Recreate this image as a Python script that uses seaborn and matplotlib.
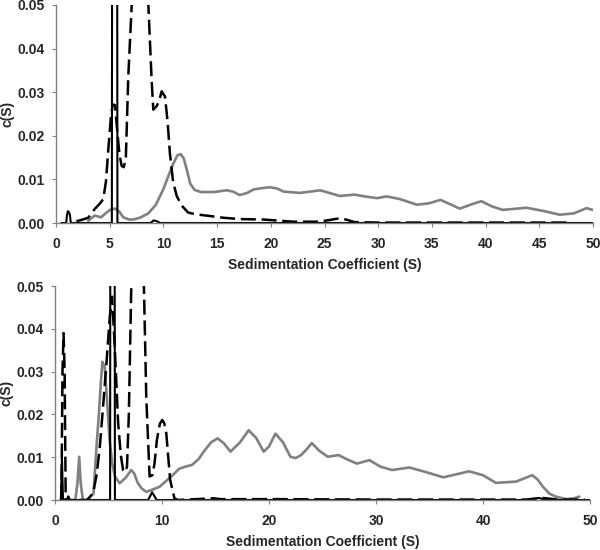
import numpy as np
import pandas as pd
import seaborn as sns
import matplotlib.pyplot as plt
from matplotlib.ticker import FormatStrFormatter

# ---- top panel data (S, c(S)) ----
top_solid_x = [0.5, 0.95, 1.02, 1.1, 1.2, 1.3, 1.38, 5.2, 5.28, 5.65, 5.72, 8.8, 9.1, 9.4, 9.7, 50.0]
top_solid_y = [0.0, 0.0, 0.0018, 0.0027, 0.0025, 0.0018, 0.0, 0.0, 0.2, 0.2, 0.0, 0.0, 0.0006,
               0.0004, 0.0, 0.0]

top_dash_x = [1.9, 2.5, 3.0, 3.6, 4.1, 4.4, 4.65, 4.87, 5.1, 5.28, 5.5, 5.65, 5.9, 6.11, 6.3,
              6.5, 6.73, 7.05, 7.8, 8.6, 8.9, 9.06, 9.37, 9.6, 9.84, 10.15, 10.4, 10.6, 10.9,
              11.24, 11.7, 12.3, 13.0, 14.0, 15.6, 17.1, 19.3, 22.1, 24.5, 25.5, 26.2, 27.0,
              27.8, 30.0, 40.0, 48.0]
top_dash_y = [0.0004, 0.0008, 0.0012, 0.0032, 0.0045, 0.0055, 0.0095, 0.0169, 0.024, 0.0272,
              0.027, 0.0225, 0.016, 0.0131, 0.0128, 0.0146, 0.0336, 0.05, 0.085, 0.05, 0.033,
              0.026, 0.0268, 0.028, 0.0302, 0.029, 0.023, 0.0161, 0.0095, 0.0062, 0.004,
              0.0024, 0.002, 0.0017, 0.0012, 0.0009, 0.0008, 0.0003, 0.0003, 0.0007, 0.001,
              0.0008, 0.0002, 0.0001, 0.0001, 0.0001]

top_gray_x = [3.0, 3.6, 4.2, 4.7, 5.1, 5.5, 5.9, 6.27, 6.8, 7.2, 7.8, 8.6, 9.3, 10.0, 10.5,
              10.9, 11.3, 11.6, 11.9, 12.2, 12.5, 12.9, 13.5, 14.7, 15.3, 15.9, 16.5, 17.1,
              17.8, 18.4, 19.2, 19.9, 20.6, 21.2, 22.7, 24.6, 25.6, 26.4, 27.8, 29.0, 29.9,
              30.8, 32.0, 33.6, 34.7, 35.8, 36.7, 37.6, 38.6, 39.6, 40.6, 41.6, 43.8, 45.5,
              46.9, 48.2, 49.4, 50.0]
top_gray_y = [0.0005, 0.0017, 0.0013, 0.0024, 0.0031, 0.0033, 0.0026, 0.0013, 0.0008, 0.0008,
              0.0012, 0.0022, 0.0042, 0.0078, 0.011, 0.0135, 0.0155, 0.0158, 0.0148, 0.012,
              0.009, 0.0076, 0.0071, 0.0071, 0.0073, 0.0075, 0.0072, 0.0064, 0.0069, 0.0077,
              0.008, 0.0082, 0.0079, 0.0072, 0.0069, 0.0075, 0.0068, 0.0062, 0.0065, 0.006,
              0.0057, 0.0061, 0.0055, 0.0042, 0.0045, 0.0053, 0.0043, 0.0033, 0.0042, 0.005,
              0.0038, 0.003, 0.0035, 0.0027, 0.0019, 0.0022, 0.0034, 0.003]

# ---- bottom panel data ----
bot_solid_x = [0.5, 0.55, 0.65, 0.75, 0.8, 5.15, 5.21, 5.52, 5.6, 8.7, 9.08, 9.5, 44.5, 45.2,
               45.9, 50.0]
bot_solid_y = [0.0, 0.0, 0.0097, 0.0, 0.0, 0.0, 0.2, 0.2, 0.0, 0.0, 0.0018, 0.0, 0.0, 0.0005,
               0.0, 0.0]

bot_dash_x = [0.6, 0.7, 0.8, 0.9, 1.0, 1.15, 1.24, 1.35, 3.0, 3.56, 3.9, 4.19, 4.5, 4.81, 5.12,
              5.33, 5.58, 5.9, 6.15, 6.36, 6.55, 6.73, 6.9, 7.13, 7.7, 8.31, 8.53, 8.84, 9.1,
              9.3, 9.52, 9.8, 10.02, 10.2, 10.4, 10.76, 11.16, 11.5, 14.8, 15.5, 21.0, 30.0,
              44.0, 45.5, 47.0, 49.5]
bot_dash_y = [0.0, 0.03, 0.039, 0.03, 0.0, 0.0, 0.0008, 0.0, 0.0, 0.0016, 0.006, 0.0125, 0.022,
              0.032, 0.0428, 0.0475, 0.036, 0.018, 0.0105, 0.007, 0.0065, 0.0078, 0.02, 0.05,
              0.09, 0.05, 0.024, 0.0055, 0.0058, 0.0085, 0.014, 0.0178, 0.0187, 0.018, 0.0156,
              0.0047, 0.0004, 0.0, 0.0004, 0.0002, 0.0002, 0.0001, 0.0001, 0.0005, 0.0001,
              0.0001]

bot_gray_x = [1.9, 2.1, 2.26, 2.4, 2.6, 3.0, 3.6, 3.88, 4.1, 4.3, 4.43, 4.65, 4.9, 5.1, 5.35,
              5.6, 6.05, 6.6, 7.13, 7.4, 7.75, 8.1, 8.53, 9.2, 9.77, 10.5, 11.0, 11.6, 12.2,
              12.8, 13.4, 13.9, 14.6, 15.2, 15.8, 16.4, 17.3, 18.1, 18.8, 19.5, 20.0, 20.6,
              21.3, 22.0, 22.5, 23.0, 23.5, 24.0, 24.7, 25.5, 26.5, 27.3, 28.2, 29.4, 30.4,
              31.5, 33.1, 34.7, 36.3, 38.7, 40.0, 41.2, 43.1, 44.0, 44.6, 45.1, 45.6, 46.2,
              46.8, 47.8, 48.5, 49.0]
bot_gray_y = [0.0, 0.004, 0.0101, 0.004, 0.0, 0.0, 0.0015, 0.0125, 0.02, 0.028, 0.0323, 0.031,
              0.022, 0.014, 0.0085, 0.0055, 0.0039, 0.0052, 0.007, 0.0062, 0.0039, 0.0027,
              0.0019, 0.0025, 0.0031, 0.0047, 0.0058, 0.0073, 0.0078, 0.0082, 0.0095, 0.0113,
              0.0135, 0.0144, 0.0132, 0.0113, 0.0135, 0.0163, 0.0145, 0.0113, 0.0125, 0.0155,
              0.0135, 0.0101, 0.0098, 0.0105, 0.0118, 0.0133, 0.0115, 0.0101, 0.0105, 0.0095,
              0.0085, 0.0093, 0.0078, 0.007, 0.0076, 0.0065, 0.0053, 0.0067, 0.0058, 0.004,
              0.0043, 0.0052, 0.0058, 0.0048, 0.0031, 0.0015, 0.0008, 0.0002, 0.0004, 0.0008]

y_ticks = [0.0, 0.01, 0.02, 0.03, 0.04, 0.05]
top_xticks = list(range(0, 51, 5))
bot_xticks = list(range(0, 51, 10))

sns.set_style("white")
plt.rcParams['font.family'] = ['Liberation Sans', 'DejaVu Sans']
plt.rcParams['font.weight'] = 'bold'
plt.rcParams['axes.labelweight'] = 'bold'

GRAY = '#808080'
DASH = (0, (6, 2.3))

fig = plt.figure(figsize=(6, 5.5), dpi=100)
ax1 = fig.add_axes([56 / 600, 1 - 223 / 550, (593 - 56) / 600, (223 - 5) / 550])
ax2 = fig.add_axes([55 / 600, 1 - 500 / 550, (590 - 55) / 600, (500 - 286) / 550])


def draw_panel(ax, solid, dash, gray, xticks):
    sns.lineplot(x=gray[0], y=gray[1], ax=ax, color=GRAY, lw=1.9, estimator=None)
    sns.lineplot(x=dash[0], y=dash[1], ax=ax, color='black', lw=1.8, linestyle=DASH,
                 estimator=None)
    sns.lineplot(x=solid[0], y=solid[1], ax=ax, color='black', lw=1.5, estimator=None)
    ax.set_xlim(0, 50)
    ax.set_ylim(0, 0.05)
    ax.set_xticks(xticks)
    ax.set_yticks(y_ticks)
    ax.yaxis.set_major_formatter(FormatStrFormatter('%.2f'))
    for side in ['top', 'right']:
        ax.spines[side].set_visible(False)
    for side in ['left', 'bottom']:
        ax.spines[side].set_color(GRAY)
        ax.spines[side].set_linewidth(1.0)
    ax.tick_params(direction='out', length=3, width=0.8, color=GRAY, labelsize=10,
                   bottom=True, left=True)
    ax.tick_params(axis='x', pad=7)
    ax.tick_params(axis='y', pad=5)
    ax.set_xlabel('Sedimentation Coefficient (S)', fontsize=10, labelpad=5)
    ax.set_ylabel('c(S)', fontsize=10, labelpad=2)


draw_panel(ax1, (top_solid_x, top_solid_y), (top_dash_x, top_dash_y),
           (top_gray_x, top_gray_y), top_xticks)
draw_panel(ax2, (bot_solid_x, bot_solid_y), (bot_dash_x, bot_dash_y),
           (bot_gray_x, bot_gray_y), bot_xticks)

fig.savefig('out.png', dpi=100)
